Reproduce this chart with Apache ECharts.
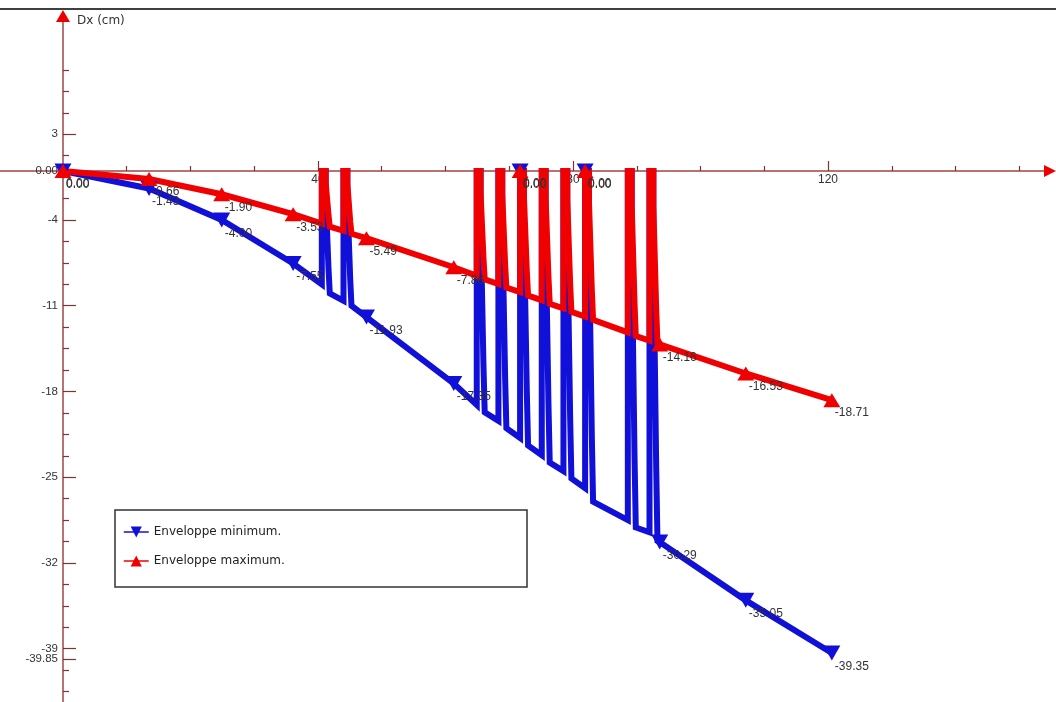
<!DOCTYPE html>
<html><head><meta charset="utf-8">
<script src="https://cdn.jsdelivr.net/npm/echarts@6/dist/echarts.min.js"></script>
<style>html,body{margin:0;padding:0;background:#fff}#c{width:1056px;height:702px}</style>
</head><body><div id="c"></div>
<script>
const seriesNames = ['Enveloppe minimum.', 'Enveloppe maximum.'];

// Enveloppe minimum: [x, Dx]
const minPoints = [
[0,0],[13.5,-1.43],[24.9,-4.00],[36.1,-7.55],
[40.6,-9.26],[40.6,0],[41.2,0],[41.2,-2.0],[41.35,-2.0],[41.35,-4.0],[41.5,-4.0],[41.5,-6.0],[41.65,-6.0],[41.65,-8.0],[41.85,-8.0],[41.85,-10.0],
[44.0,-10.6],[44.0,0],[44.6,0],[44.6,-2.2],[44.75,-2.2],[44.75,-4.4],[44.9,-4.4],[44.9,-6.6],[45.05,-6.6],[45.05,-8.8],[45.25,-8.8],[45.25,-11.0],
[47.6,-11.93],[61.3,-17.35],
[64.9,-19.1],[64.9,0],[65.5,0],[65.5,-3.94],[65.65,-3.94],[65.65,-7.88],[65.8,-7.88],[65.8,-11.82],[65.95,-11.82],[65.95,-15.76],[66.15,-15.76],[66.15,-19.7],
[68.3,-20.4],[68.3,0],[68.9,0],[68.9,-4.2],[69.05,-4.2],[69.05,-8.4],[69.2,-8.4],[69.2,-12.6],[69.35,-12.6],[69.35,-16.8],[69.55,-16.8],[69.55,-21.0],
[71.7,-21.8],[71.7,0],[72.3,0],[72.3,-4.48],[72.45,-4.48],[72.45,-8.96],[72.6,-8.96],[72.6,-13.44],[72.75,-13.44],[72.75,-17.92],[72.95,-17.92],[72.95,-22.4],
[75.1,-23.2],[75.1,0],[75.7,0],[75.7,-4.76],[75.85,-4.76],[75.85,-9.52],[76.0,-9.52],[76.0,-14.28],[76.15,-14.28],[76.15,-19.04],[76.35,-19.04],[76.35,-23.8],
[78.5,-24.5],[78.5,0],[79.1,0],[79.1,-5.02],[79.25,-5.02],[79.25,-10.04],[79.4,-10.04],[79.4,-15.06],[79.55,-15.06],[79.55,-20.08],[79.75,-20.08],[79.75,-25.1],
[81.9,-25.9],[81.9,0],[82.5,0],[82.5,-5.4],[82.65,-5.4],[82.65,-10.8],[82.8,-10.8],[82.8,-16.2],[82.95,-16.2],[82.95,-21.6],[83.15,-21.6],[83.15,-27.0],
[88.6,-28.5],[88.6,0],[89.2,0],[89.2,-5.82],[89.35,-5.82],[89.35,-11.64],[89.5,-11.64],[89.5,-17.46],[89.65,-17.46],[89.65,-23.28],[89.85,-23.28],[89.85,-29.1],
[92.0,-29.5],[92.0,0],[92.6,0],[92.6,-6.04],[92.75,-6.04],[92.75,-12.08],[92.9,-12.08],[92.9,-18.12],[93.05,-18.12],[93.05,-24.16],[93.25,-24.16],[93.25,-30.2],
[93.6,-30.29],[107.1,-35.05],[120.6,-39.35]
];

// Enveloppe maximum: [x, Dx]
const maxPoints = [
[0,0],[13.5,-0.66],[24.9,-1.90],[36.1,-3.53],
[40.6,-4.30],[40.6,0],[41.2,0],[41.2,-0.91],[41.35,-0.91],[41.35,-1.82],[41.5,-1.82],[41.5,-2.72],[41.65,-2.72],[41.65,-3.63],[41.85,-3.63],[41.85,-4.54],
[44.0,-4.88],[44.0,0],[44.6,0],[44.6,-1.03],[44.75,-1.03],[44.75,-2.05],[44.9,-2.05],[44.9,-3.08],[45.05,-3.08],[45.05,-4.10],[45.25,-4.10],[45.25,-5.13],
[47.6,-5.49],[61.3,-7.86],
[64.9,-8.56],[64.9,0],[65.5,0],[65.5,-1.77],[65.65,-1.77],[65.65,-3.54],[65.8,-3.54],[65.8,-5.31],[65.95,-5.31],[65.95,-7.08],[66.15,-7.08],[66.15,-8.85],
[68.3,-9.23],[68.3,0],[68.9,0],[68.9,-1.90],[69.05,-1.90],[69.05,-3.80],[69.2,-3.80],[69.2,-5.71],[69.35,-5.71],[69.35,-7.61],[69.55,-7.61],[69.55,-9.51],
[71.7,-9.89],[71.7,0],[72.3,0],[72.3,-2.03],[72.45,-2.03],[72.45,-4.07],[72.6,-4.07],[72.6,-6.10],[72.75,-6.10],[72.75,-8.14],[72.95,-8.14],[72.95,-10.17],
[75.1,-10.55],[75.1,0],[75.7,0],[75.7,-2.17],[75.85,-2.17],[75.85,-4.34],[76.0,-4.34],[76.0,-6.50],[76.15,-6.50],[76.15,-8.67],[76.35,-8.67],[76.35,-10.84],
[78.5,-11.22],[78.5,0],[79.1,0],[79.1,-2.30],[79.25,-2.30],[79.25,-4.60],[79.4,-4.60],[79.4,-6.90],[79.55,-6.90],[79.55,-9.20],[79.75,-9.20],[79.75,-11.50],
[81.9,-11.88],[81.9,0],[82.5,0],[82.5,-2.43],[82.65,-2.43],[82.65,-4.86],[82.8,-4.86],[82.8,-7.30],[82.95,-7.30],[82.95,-9.73],[83.15,-9.73],[83.15,-12.16],
[88.6,-13.18],[88.6,0],[89.2,0],[89.2,-2.69],[89.35,-2.69],[89.35,-5.39],[89.5,-5.39],[89.5,-8.08],[89.65,-8.08],[89.65,-10.78],[89.85,-10.78],[89.85,-13.47],
[92.0,-13.85],[92.0,0],[92.6,0],[92.6,-2.82],[92.75,-2.82],[92.75,-5.64],[92.9,-5.64],[92.9,-8.46],[93.05,-8.46],[93.05,-11.28],[93.25,-11.28],[93.25,-14.10],
[93.6,-14.16],[107.1,-16.53],[120.6,-18.71]
];

// nodes carrying a marker and a value label
const minNodes = [[0,0],[13.5,-1.43],[24.9,-4.00],[36.1,-7.55],[47.6,-11.93],[61.3,-17.35],[71.7,0],[81.9,0],[93.6,-30.29],[107.1,-35.05],[120.6,-39.35]];
const maxNodes = [[0,0],[13.5,-0.66],[24.9,-1.90],[36.1,-3.53],[47.6,-5.49],[61.3,-7.86],[71.7,0],[81.9,0],[93.6,-14.16],[107.1,-16.53],[120.6,-18.71]];

const xMajorTicks = [40, 80, 120];
const xMinorTicks = [10, 20, 30, 50, 60, 70, 90, 100, 110, 130, 140, 150];
const xLabelValues = [40, 80, 120];
const yMajorTicks = [3, -4, -11, -18, -25, -32, -39, -39.85];
const yMinorTicks = [8.25, 6.5, 4.75, 1.25, -0.5, -2.25, -5.75, -7.5, -9.25, -12.75, -14.5, -16.25, -19.75, -21.5, -23.25, -26.75, -28.5, -30.25, -33.75, -35.5, -37.25, -40.75, -42.5, -44.25];
const yLabelValues = [3, 0, -4, -11, -18, -25, -32, -39];
const yLabelTexts = ['3', '0.00', '-4', '-11', '-18', '-25', '-32', '-39'];
const yExtraLabelValues = [-39.85];
const yExtraLabelTexts = ['-39.85'];

const X_MIN = -9.88, X_MAX = 154.82, Y_MIN = -46, Y_MAX = 12.65;
const W = 1056, H = 702;
const G_LEFT = 0, G_RIGHT = 6, G_TOP = 16, G_BOTTOM = -32.5;
const gw = W - G_LEFT - G_RIGHT, gh = H - G_TOP - G_BOTTOM;
const zeroLeft = G_LEFT + gw * (0 - X_MIN) / (X_MAX - X_MIN);      // pixel column of x = 0
const zeroBottom = H - (G_TOP + gh * Y_MAX / (Y_MAX - Y_MIN));      // distance from bottom of y = 0

const AXIS_COLOR = '#a04545', TICK_COLOR = '#7a3535', ARROW_COLOR = '#ee0000';
const BLUE = '#1010d8', RED = '#f00000';
const FONT = 'Liberation Sans, Arial, sans-serif';
const VFONT = 'DejaVu Sans, Verdana, sans-serif';

function buildData(points, nodes) {
  return points.map(p => {
    const isNode = nodes.some(n => n[0] === p[0] && n[1] === p[1]);
    return isNode ? { value: p, label: { show: true } } : { value: p, symbol: 'none' };
  });
}

function lineSeries(name, points, nodes, color, symbol, size) {
  return {
    name, type: 'line', xAxisIndex: 0, yAxisIndex: 0,
    data: buildData(points, nodes),
    symbol, symbolSize: size, showAllSymbol: true,
    lineStyle: { color, width: 6, join: 'miter' },
    itemStyle: { color },
    label: {
      show: false, position: 'bottom', align: 'left', offset: [3, -5],
      fontSize: 12, color: '#333', fontFamily: FONT,
      formatter: p => p.value[1].toFixed(2)
    },
    emphasis: { disabled: true },
    animation: false
  };
}

function yLabelAxis(values, texts) {
  return {
    gridIndex: 2, type: 'value', position: 'left', offset: 0, min: Y_MIN, max: Y_MAX,
    axisLine: { show: false, onZero: false }, axisTick: { show: false }, splitLine: { show: false },
    axisLabel: {
      show: true, customValues: values, hideOverlap: false, margin: 5, fontSize: 11.5, color: '#333', fontFamily: FONT,
      formatter: v => { const i = values.indexOf(v); return i >= 0 ? texts[i] : ''; }
    }
  };
}

const hidden = { show: false };
const chart = echarts.init(document.getElementById('c'), null, { renderer: 'canvas' });
chart.setOption({
  animation: false,
  backgroundColor: '#fff',
  grid: [
    { left: G_LEFT, right: G_RIGHT, top: G_TOP, bottom: G_BOTTOM, containLabel: false, outerBoundsMode: 'none' },
    { left: zeroLeft, right: G_RIGHT, top: G_TOP, bottom: zeroBottom, containLabel: false, outerBoundsMode: 'none' },
    { left: zeroLeft, right: G_RIGHT, top: G_TOP, bottom: G_BOTTOM, containLabel: false, outerBoundsMode: 'none' }
  ],
  graphic: [
    { type: 'line', shape: { x1: 0, y1: 9, x2: W, y2: 9 }, style: { stroke: '#000', lineWidth: 1.5 } },
    { type: 'rect', shape: { x: 115, y: 510, width: 412, height: 77 }, style: { fill: '#fff', stroke: '#333', lineWidth: 1.5 } }
  ],
  legend: {
    data: seriesNames, orient: 'vertical', left: 123, top: 526, padding: 0,
    itemWidth: 25, itemHeight: 14, itemGap: 17, selectedMode: false,
    lineStyle: { width: 1.5 },
    textStyle: { fontFamily: VFONT, fontSize: 12, color: '#222' }
  },
  xAxis: [
    {
      gridIndex: 0, type: 'value', position: 'bottom', min: X_MIN, max: X_MAX,
      axisLine: { show: true, onZero: true, lineStyle: { color: AXIS_COLOR, width: 1.5 } },
      axisTick: { show: true, inside: true, length: 10, customValues: xMajorTicks, lineStyle: { color: TICK_COLOR, width: 1.2 } },
      axisLabel: { show: false }, splitLine: { show: false }
    },
    {
      gridIndex: 0, type: 'value', position: 'bottom', min: X_MIN, max: X_MAX,
      axisLine: { show: true, onZero: true, symbol: ['none', 'triangle'], symbolSize: [12, 12], lineStyle: { color: ARROW_COLOR, width: 0 } },
      axisTick: { show: true, inside: true, length: 5, customValues: xMinorTicks, lineStyle: { color: TICK_COLOR, width: 1.2 } },
      axisLabel: { show: false }, splitLine: { show: false }
    },
    {
      gridIndex: 1, type: 'value', position: 'bottom', min: 0, max: X_MAX,
      axisLine: { show: false, onZero: false }, axisTick: { show: false }, splitLine: { show: false },
      axisLabel: { show: true, customValues: xLabelValues, margin: 3, fontSize: 12, color: '#333', fontFamily: FONT }
    },
    { gridIndex: 2, type: 'value', min: 0, max: 1, show: false, axisLine: hidden, axisTick: hidden, axisLabel: hidden, splitLine: hidden }
  ],
  yAxis: [
    {
      gridIndex: 0, type: 'value', position: 'left', min: Y_MIN, max: Y_MAX,
      name: 'Dx (cm)', nameLocation: 'end', nameGap: -5,
      nameTextStyle: { align: 'left', verticalAlign: 'middle', padding: [0, 0, 0, 14], fontSize: 12, color: '#333', fontFamily: VFONT },
      axisLine: { show: true, onZero: true, lineStyle: { color: AXIS_COLOR, width: 1.5 } },
      axisTick: { show: true, inside: true, length: 13, customValues: yMajorTicks, lineStyle: { color: TICK_COLOR, width: 1.2 } },
      axisLabel: { show: false }, splitLine: { show: false }
    },
    {
      gridIndex: 0, type: 'value', position: 'left', min: Y_MIN, max: Y_MAX,
      axisLine: { show: true, onZero: true, symbol: ['none', 'triangle'], symbolSize: [14, 12], lineStyle: { color: ARROW_COLOR, width: 0 } },
      axisTick: { show: true, inside: true, length: 6, customValues: yMinorTicks, lineStyle: { color: TICK_COLOR, width: 1.2 } },
      axisLabel: { show: false }, splitLine: { show: false }
    },
    { gridIndex: 1, type: 'value', min: 0, max: Y_MAX, show: false, axisLine: hidden, axisTick: hidden, axisLabel: hidden, splitLine: hidden },
    yLabelAxis(yLabelValues, yLabelTexts),
    yLabelAxis(yExtraLabelValues, yExtraLabelTexts)
  ],
  series: [
    lineSeries(seriesNames[0], minPoints, minNodes, BLUE, 'path://M0,0L10,0L5,10Z', [17, 15]),
    lineSeries(seriesNames[1], maxPoints, maxNodes, RED, 'triangle', [17, 14])
  ]
});
</script>
</body></html>
